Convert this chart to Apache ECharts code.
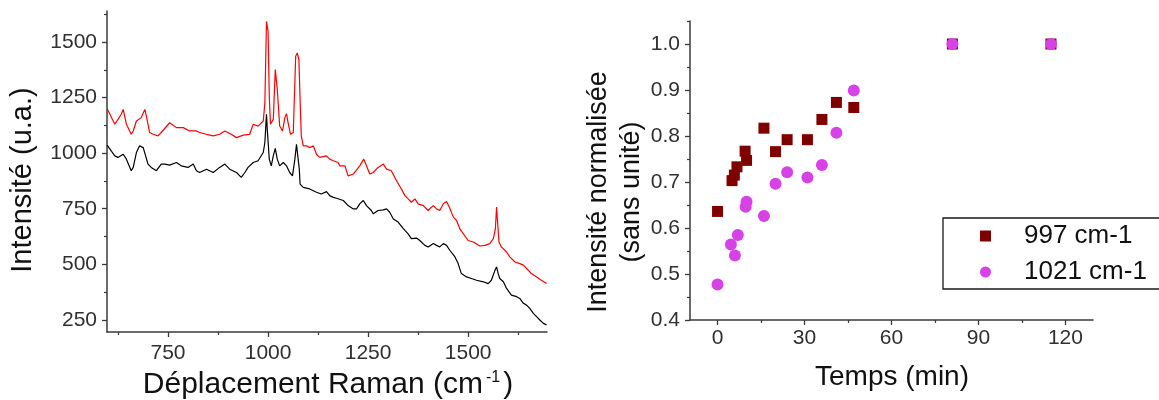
<!DOCTYPE html>
<html><head><meta charset="utf-8">
<script src="https://cdn.jsdelivr.net/npm/echarts@6/dist/echarts.min.js"></script>
<style>html,body{margin:0;padding:0;background:#fff}#c{width:1159px;height:400px}</style>
</head><body><div id="c"></div>
<script>
// ---- Left panel: Raman spectra [shift cm-1, intensity u.a.] ----
const redSpectrum = [[598,1200],[617,1130],[625,1152],[633,1175],[638,1197],[646,1130],[658,1085],[663,1100],[671,1145],[683,1160],[692,1197],[696,1167],[704,1093],[713,1085],[725,1078],[733,1093],[754,1137],[771,1115],[788,1115],[804,1100],[821,1100],[829,1093],[846,1085],[863,1078],[879,1085],[892,1100],[908,1085],[921,1070],[938,1081],[954,1085],[963,1130],[975,1122],[988,1145],[992,1227],[996,1593],[1000,1548],[1003,1257],[1006,1130],[1013,1152],[1018,1376],[1023,1287],[1029,1122],[1036,1100],[1042,1160],[1046,1178],[1050,1137],[1056,1085],[1063,1093],[1069,1436],[1073,1451],[1077,1421],[1080,1242],[1083,1078],[1088,1033],[1096,1033],[1104,1025],[1113,1033],[1121,995],[1129,981],[1146,988],[1154,973],[1163,966],[1175,958],[1179,943],[1192,943],[1200,898],[1213,906],[1229,943],[1239,973],[1246,943],[1254,906],[1263,913],[1275,936],[1288,951],[1296,928],[1308,921],[1321,876],[1333,839],[1342,809],[1350,794],[1358,779],[1367,794],[1375,772],[1379,779],[1388,764],[1400,742],[1408,757],[1413,764],[1421,749],[1429,742],[1438,772],[1446,782],[1453,757],[1463,712],[1471,697],[1479,660],[1488,637],[1500,607],[1513,600],[1529,582],[1542,585],[1554,593],[1563,615],[1568,660],[1571,757],[1573,704],[1577,600],[1583,578],[1596,555],[1604,533],[1617,510],[1629,503],[1638,496],[1646,481],[1658,458],[1671,443],[1683,428],[1696,413]];
const blackSpectrum = [[598,1036],[608,1010],[617,988],[625,981],[638,995],[646,973],[658,921],[663,936],[671,1003],[679,1033],[688,1025],[692,1025],[700,951],[708,936],[721,921],[733,951],[742,951],[754,946],[771,958],[783,943],[800,936],[813,951],[821,921],[829,913],[846,928],[863,913],[879,936],[892,951],[904,928],[921,913],[933,891],[942,913],[950,936],[963,958],[975,966],[988,1003],[992,1048],[996,1175],[998,1107],[1003,973],[1008,943],[1013,988],[1018,1022],[1023,973],[1029,943],[1038,958],[1046,943],[1054,913],[1061,898],[1067,973],[1071,1040],[1075,1033],[1078,928],[1080,861],[1088,846],[1104,839],[1121,824],[1133,816],[1146,827],[1154,809],[1163,801],[1171,797],[1188,787],[1200,764],[1213,749],[1221,749],[1229,772],[1238,787],[1246,764],[1258,742],[1263,727],[1275,742],[1288,745],[1296,749],[1304,734],[1313,704],[1325,690],[1338,660],[1350,637],[1358,615],[1371,618],[1379,607],[1392,585],[1400,578],[1413,593],[1421,585],[1429,578],[1438,593],[1446,585],[1454,563],[1467,533],[1475,503],[1483,458],[1496,443],[1508,436],[1521,428],[1538,421],[1550,413],[1558,428],[1567,473],[1571,488],[1575,458],[1579,436],[1588,421],[1596,391],[1608,361],[1621,354],[1629,346],[1638,324],[1646,316],[1654,301],[1663,279],[1671,264],[1679,249],[1688,234],[1696,227]];
const ramanMajorTicks = [750,1000,1250,1500];
const ramanMinorTicks = [625,875,1125,1375,1625];
const intensityMajorTicks = [250,500,750,1000,1250,1500];
const intensityMinorTicks = [375,625,875,1125,1375,1625];

// ---- Right panel: normalised intensity vs time ----
const time997 = [0,5,5.8,6.7,9.5,10,16,20,24,31,36,41,47,81,115];
const norm997 = [0.636,0.703,0.715,0.733,0.767,0.747,0.817,0.766,0.792,0.792,0.836,0.873,0.862,1.0,1.0];
const time1021 = [0,4.6,6,7,9.7,10,16,20,24,31,36,41,47,81,115];
const norm1021 = [0.477,0.564,0.540,0.585,0.646,0.657,0.626,0.696,0.721,0.710,0.737,0.807,0.899,1.0,1.0];
const timeMajorTicks = [0,30,60,90,120];
const timeMinorTicks = [15,45,75,105];
const normMajorTicks = [0.4,0.5,0.6,0.7,0.8,0.9,1.0];
const normMinorTicks = [0.45,0.55,0.65,0.75,0.85,0.95,1.05];

const FONT = 'Liberation Sans, Arial, sans-serif';
const AXC = '#3a3a3a';
const LBL = '#303030';

function axisPair(dim, gridIndex, min, max, major, minor, margin, fmt) {
  const pos = dim === 'x' ? 'bottom' : 'left';
  const main = {
    type: 'value', gridIndex, min, max, position: pos,
    axisLine: { show: true, onZero: false, lineStyle: { color: AXC, width: 1.5 } },
    axisTick: { show: true, inside: false, length: 5, customValues: major, lineStyle: { color: AXC, width: 1.3 } },
    axisLabel: { show: true, customValues: major, margin, color: LBL, fontSize: 21, fontFamily: FONT,
                 formatter: fmt || (v => String(v)) },
    splitLine: { show: false }
  };
  const sub = {
    type: 'value', gridIndex, min, max, position: pos,
    axisLine: { show: false, onZero: false },
    axisTick: { show: true, inside: false, length: 3, customValues: minor, lineStyle: { color: AXC, width: 1.2 } },
    axisLabel: { show: false },
    splitLine: { show: false }
  };
  return [main, sub];
}

const chart = echarts.init(document.getElementById('c'), null, { renderer: 'canvas' });
const xL = axisPair('x', 0, 597.5, 1697, ramanMajorTicks, ramanMinorTicks, 11);
const yL = axisPair('y', 0, 195, 1640, intensityMajorTicks, intensityMinorTicks, 10);
const xR = axisPair('x', 1, -9.5, 129.5, timeMajorTicks, timeMinorTicks, 8);
const yR = axisPair('y', 1, 0.4, 1.05, normMajorTicks, normMinorTicks, 10, v => v.toFixed(1));

chart.setOption({
  animation: false,
  backgroundColor: '#ffffff',
  textStyle: { fontFamily: FONT },
  grid: [
    { left: 107, top: 11, width: 440, height: 321, containLabel: false, outerBoundsMode: 'none' },
    { left: 690, top: 21, width: 403, height: 299, containLabel: false, outerBoundsMode: 'none' }
  ],
  xAxis: [xL[0], xL[1], xR[0], xR[1]],
  yAxis: [yL[0], yL[1], yR[0], yR[1]],
  legend: {
    orient: 'vertical', left: 943, top: 218,
    padding: [5, 40, 4, 37],
    borderColor: '#1a1a1a', borderWidth: 1.3, borderRadius: 0,
    itemWidth: 11, itemHeight: 11, itemGap: 10,
    data: [{ name: '997 cm-1', icon: 'rect' }, { name: '1021 cm-1', icon: 'circle' }],
    formatter: '{t|{name}}',
    textStyle: { color: '#111', fontSize: 26, fontFamily: FONT,
      rich: { t: { fontSize: 26, lineHeight: 26, padding: [0, 0, 0, 28], color: '#111', fontFamily: FONT } } },
    selectedMode: false
  },
  graphic: [
    { type: 'text', x: 23, y: 180, rotation: Math.PI / 2,
      style: { text: 'Intensité (u.a.)', font: '29px ' + FONT, fill: '#111', textAlign: 'center', textVerticalAlign: 'middle' } },
    { type: 'text', x: 328, y: 385,
      style: { text: '{a|Déplacement Raman (cm}{s|-1}{a|)}', textAlign: 'center', textVerticalAlign: 'middle',
        rich: { a: { fontSize: 30, fontFamily: FONT, fill: '#111', color: '#111' },
                s: { fontSize: 16, fontFamily: FONT, color: '#111', fill: '#111', verticalAlign: 'top', padding: [0, 3, 14, 3] } } } },
    { type: 'text', x: 599, y: 192, rotation: Math.PI / 2,
      style: { text: 'Intensité normalisée', font: '27px ' + FONT, fill: '#111', textAlign: 'center', textVerticalAlign: 'middle' } },
    { type: 'text', x: 632, y: 192, rotation: Math.PI / 2,
      style: { text: '(sans unité)', font: '27px ' + FONT, fill: '#111', textAlign: 'center', textVerticalAlign: 'middle' } },
    { type: 'text', x: 892, y: 377,
      style: { text: 'Temps (min)', font: '28px ' + FONT, fill: '#111', textAlign: 'center', textVerticalAlign: 'middle' } }
  ],
  series: [
    { type: 'line', name: 'red', xAxisIndex: 0, yAxisIndex: 0, data: redSpectrum, showSymbol: false, symbol: 'none',
      lineStyle: { color: '#ff0000', width: 1.2 }, itemStyle: { color: '#ff0000' }, silent: true },
    { type: 'line', name: 'black', xAxisIndex: 0, yAxisIndex: 0, data: blackSpectrum, showSymbol: false, symbol: 'none',
      lineStyle: { color: '#000000', width: 1.2 }, itemStyle: { color: '#000000' }, silent: true },
    { type: 'scatter', name: '997 cm-1', xAxisIndex: 2, yAxisIndex: 2, symbol: 'rect', symbolSize: 11,
      data: time997.map((t, i) => [t, norm997[i]]), itemStyle: { color: '#800000', opacity: 1 } },
    { type: 'scatter', name: '1021 cm-1', xAxisIndex: 2, yAxisIndex: 2, symbol: 'circle', symbolSize: 12,
      data: time1021.map((t, i) => [t, norm1021[i]]), itemStyle: { color: '#d642e6', opacity: 1 } }
  ]
});
</script></body></html>
